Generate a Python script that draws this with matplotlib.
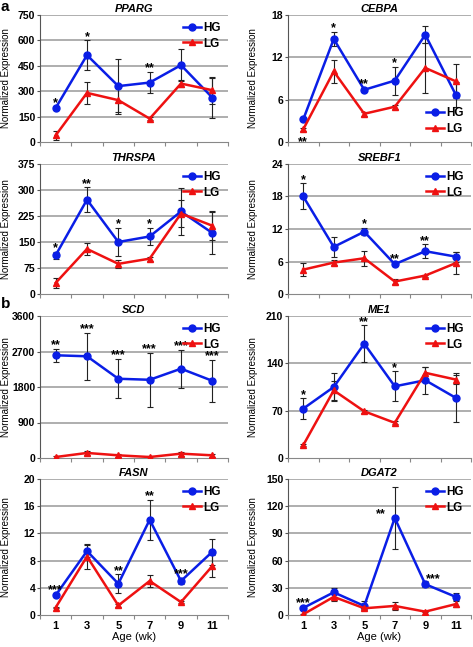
import numpy as np
import matplotlib
matplotlib.use('Agg')
import matplotlib.pyplot as plt

plt.rcParams['font.family'] = ['Liberation Sans', 'DejaVu Sans']
plt.rcParams['font.weight'] = 'bold'

ages = ['1', '3', '5', '7', '9', '11']

# a
pparg_hg = [201, 513, 330, 351, 454, 262]
pparg_hg_err = [10, 88, 163, 62, 95, 118]
pparg_lg = [39, 290, 247, 138, 345, 306]
pparg_lg_err = [25, 67, 70, 8, 20, 80]
pparg_sig = ['*', '*', '', '**', '', '']

cebpa_hg = [3.2, 14.6, 7.4, 8.7, 15.2, 6.7]
cebpa_hg_err = [0.2, 1.0, 0.3, 2.0, 1.2, 1.8]
cebpa_lg = [1.8, 10.0, 4.0, 5.0, 10.5, 8.6]
cebpa_lg_err = [0.2, 1.6, 0.3, 0.3, 3.5, 2.4]
cebpa_sig = ['**', '*', '**', '*', '', '']

thrspa_hg = [112, 272, 150, 166, 238, 176]
thrspa_hg_err = [10, 36, 40, 24, 68, 62]
thrspa_lg = [32, 130, 87, 102, 232, 197]
thrspa_lg_err = [15, 18, 12, 6, 40, 40]
thrspa_sig = ['*', '**', '*', '*', '', '']

srebf1_hg = [18.0, 8.7, 11.5, 5.5, 7.9, 6.9]
srebf1_hg_err = [2.4, 1.8, 0.7, 0.3, 1.3, 0.9]
srebf1_lg = [4.5, 5.8, 6.6, 2.3, 3.4, 5.7]
srebf1_lg_err = [1.2, 0.5, 1.4, 0.5, 0.2, 2.0]
srebf1_sig = ['*', '', '*', '**', '**', '']

# b
scd_hg = [2604, 2579, 2009, 1983, 2264, 1957]
scd_hg_err = [170, 600, 500, 680, 485, 540]
scd_lg = [25, 128, 68, 25, 110, 68]
scd_lg_err = [20, 50, 40, 20, 50, 30]
scd_sig = ['**', '***', '***', '***', '***', '***']

me1_hg = [73, 105, 169, 106, 115, 89]
me1_hg_err = [15, 20, 27, 22, 20, 36]
me1_lg = [19, 100, 69, 52, 126, 116]
me1_lg_err = [1, 14, 2, 2, 9, 7]
me1_sig = ['*', '', '**', '*', '', '']

fasn_hg = [2.9, 9.4, 4.6, 14.0, 5.0, 9.3]
fasn_hg_err = [0.2, 0.9, 1.4, 2.9, 0.5, 1.9]
fasn_lg = [1.1, 8.6, 1.4, 5.0, 1.9, 7.2]
fasn_lg_err = [0.1, 1.8, 0.2, 0.9, 0.2, 1.6]
fasn_sig = ['***', '', '**', '**', '***', '']

dgat2_hg = [7.8, 25, 10, 107, 34, 20]
dgat2_hg_err = [1, 5, 5, 34, 3, 4]
dgat2_lg = [0.8, 20, 7.4, 10, 3.7, 12]
dgat2_lg_err = [0.3, 5, 1, 4, 0.5, 3]
dgat2_sig = ['***', '', '', '**', '***', '']

panels = [
    ('PPARG', pparg_hg, pparg_hg_err, pparg_lg, pparg_lg_err, pparg_sig, 750, 150, 'upper right'),
    ('CEBPA', cebpa_hg, cebpa_hg_err, cebpa_lg, cebpa_lg_err, cebpa_sig, 18, 6, 'lower right'),
    ('THRSPA', thrspa_hg, thrspa_hg_err, thrspa_lg, thrspa_lg_err, thrspa_sig, 375, 75, 'upper right'),
    ('SREBF1', srebf1_hg, srebf1_hg_err, srebf1_lg, srebf1_lg_err, srebf1_sig, 24, 6, 'upper right'),
    ('SCD', scd_hg, scd_hg_err, scd_lg, scd_lg_err, scd_sig, 3600, 900, 'upper right'),
    ('ME1', me1_hg, me1_hg_err, me1_lg, me1_lg_err, me1_sig, 210, 70, 'upper right'),
    ('FASN', fasn_hg, fasn_hg_err, fasn_lg, fasn_lg_err, fasn_sig, 20, 4, 'upper right'),
    ('DGAT2', dgat2_hg, dgat2_hg_err, dgat2_lg, dgat2_lg_err, dgat2_sig, 150, 30, 'upper right'),
]

# special star placement
star_place = {('CEBPA', 0): 'below', ('DGAT2', 3): 'left', ('DGAT2', 4): 'right'}

W, H = 473, 647
col_x = [(40, 228), (288, 471)]
ylab_x = [6, 253]   # pixel centre of the y labels
row_y = [(15, 142), (164, 294), (316, 458), (479, 615)]

fig = plt.figure(figsize=(W / 100, H / 100), dpi=100)

x = np.arange(len(ages))
for k, (name, hg, hge, lg, lge, sig, ymax, ystep, loc) in enumerate(panels):
    r, c = divmod(k, 2)
    x0, x1 = col_x[c]
    y0, y1 = row_y[r]
    ax = fig.add_axes([x0 / W, 1 - y1 / H, (x1 - x0) / W, (y1 - y0) / H])

    ax.errorbar(x, hg, yerr=hge, fmt='none', ecolor='#222222', elinewidth=0.8, capsize=2, capthick=0.8, zorder=2)
    ax.errorbar(x, lg, yerr=lge, fmt='none', ecolor='#222222', elinewidth=0.8, capsize=2, capthick=0.8, zorder=2)
    ax.plot(x, hg, color='#0a1ee6', lw=1.8, marker='o', ms=5, label='HG', zorder=3)
    ax.plot(x, lg, color='#ee1111', lw=1.8, marker='^', ms=5, label='LG', zorder=3)

    ax.set_xlim(-0.5, len(ages) - 0.5)
    ax.set_ylim(0, ymax)
    yt = np.arange(0, ymax + ystep / 2, ystep)
    ax.set_yticks(yt)
    ax.set_yticklabels(['%g' % v for v in yt])
    for v in yt[1:]:
        ax.axhline(v, color='#a8a8a8', lw=1.3, zorder=0)

    ax.set_xticks(np.arange(-0.5, len(ages)))
    ax.set_xticklabels([])
    ax.set_xticks(x, minor=True)
    if r == 3:
        ax.set_xticklabels(ages, minor=True, fontsize=8)
        ax.set_xlabel('Age (wk)', fontsize=8, labelpad=1)
    ax.tick_params(axis='x', which='major', length=3, color='#888888')
    ax.tick_params(axis='x', which='minor', length=0, pad=4)
    ax.tick_params(axis='y', length=2, labelsize=7.5, pad=1.5, color='#555555')

    for s in ['top', 'right']:
        ax.spines[s].set_visible(False)
    ax.spines['left'].set_color('#555555')
    ax.spines['bottom'].set_color('#888888')

    ax.set_ylabel('Normalized Expression', fontsize=7, va='center')
    ax.yaxis.set_label_coords((ylab_x[c] - x0) / (x1 - x0), 0.5)
    ax.set_title(name, fontsize=8, style='italic', fontweight='bold', pad=2)

    for i, s in enumerate(sig):
        if not s:
            continue
        place = star_place.get((name, i), 'above')
        if place == 'below':
            ax.annotate(s, xy=(i, lg[i] - lge[i]), xytext=(0, -8), textcoords='offset points',
                        ha='center', va='center', fontsize=9)
        elif place == 'left':
            ax.annotate(s, xy=(i, hg[i]), xytext=(-10, 3), textcoords='offset points',
                        ha='center', va='center', fontsize=9)
        elif place == 'right':
            ax.annotate(s, xy=(i, hg[i] + hge[i]), xytext=(6, 2), textcoords='offset points',
                        ha='center', va='center', fontsize=9)
        else:
            ax.annotate(s, xy=(i, hg[i] + hge[i]), xytext=(0, 2.5), textcoords='offset points',
                        ha='center', va='center', fontsize=9)

    ax.legend(loc=loc, frameon=False, fontsize=8.5, handlelength=1.5, handletextpad=0.2,
              labelspacing=0.3, borderaxespad=0.2)

fig.text(0.002, 1.0, 'a', fontsize=11, fontweight='bold', va='top', ha='left')
fig.text(0.002, 1 - 297 / H, 'b', fontsize=11, fontweight='bold', va='top', ha='left')

fig.savefig('out.png', dpi=100)
